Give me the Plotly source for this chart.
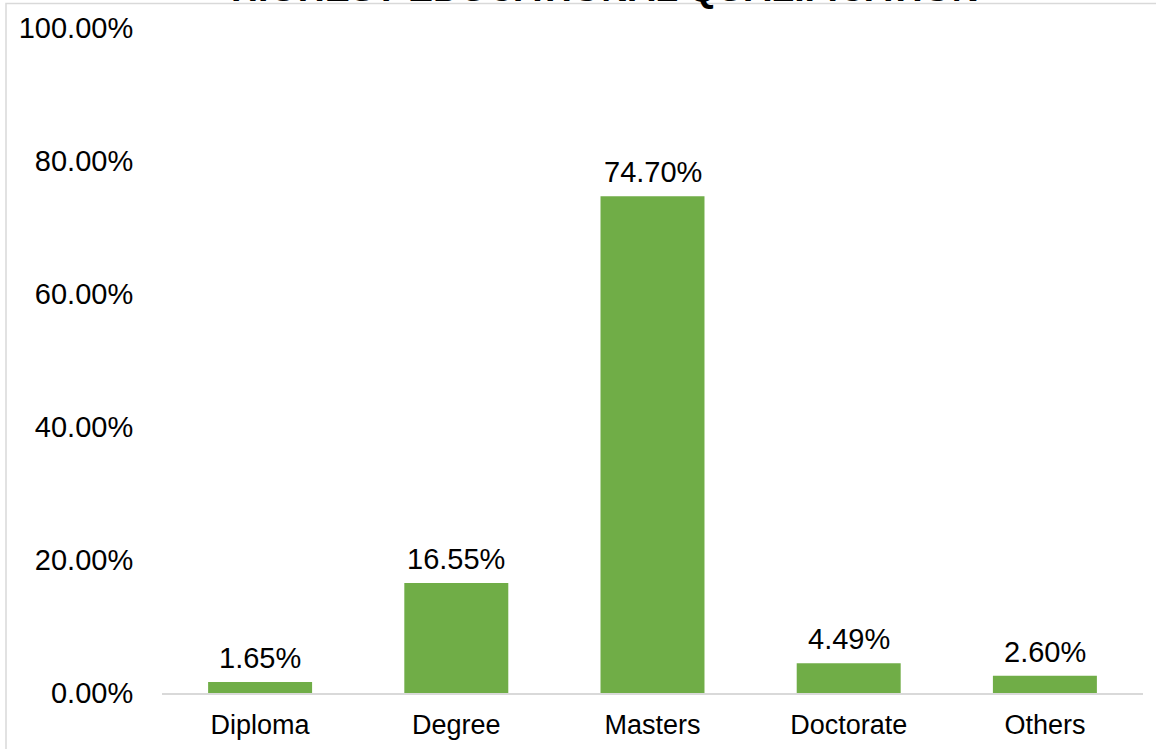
import plotly.graph_objects as go

categories = ["Diploma", "Degree", "Masters", "Doctorate", "Others"]
values = [0.0165, 0.1655, 0.7470, 0.0449, 0.0260]
value_labels = ["1.65%", "16.55%", "74.70%", "4.49%", "2.60%"]
title_text = "HIGHEST EDUCATIONAL QUALIFICATION"

FONT = "Liberation Sans, Arial, sans-serif"

fig = go.Figure()
fig.add_trace(go.Bar(
    x=categories, y=values,
    marker=dict(color="#70AD47", line=dict(width=0)),
    width=0.53,
    hoverinfo="x+y",
))

for c, v, t in zip(categories, values, value_labels):
    fig.add_annotation(x=c, y=v, xref="x", yref="y", text=t, showarrow=False,
                       yanchor="bottom", yshift=6,
                       font=dict(family=FONT, size=29, color="#000000"))

L, R, T, B = 162, 13, 28, 56
W, H = 1156, 749
pw, ph = W - L - R, H - T - B

# chart-area border (light gray), partly outside the viewport
fig.add_shape(type="rect", xref="paper", yref="paper",
              x0=(6 - L) / pw, x1=(W + 20 - L) / pw,
              y0=-(H + 20 - T - ph) / ph, y1=1 + (T - 3.5) / ph,
              line=dict(color="#D9D9D9", width=1.5), fillcolor="rgba(0,0,0,0)", layer="below")

# title, mostly cut off above the viewport
fig.add_annotation(x=(605 - L) / pw, y=1 + (T - 11.5) / ph, xref="paper", yref="paper",
                   text="<b>" + title_text + "</b>", showarrow=False,
                   xanchor="center", yanchor="bottom",
                   font=dict(family=FONT, size=37.5, color="#000000"))

fig.update_layout(
    width=W, height=H,
    margin=dict(l=L, r=R, t=T, b=B, autoexpand=False),
    paper_bgcolor="#FFFFFF", plot_bgcolor="#FFFFFF",
    showlegend=False,
    font=dict(family=FONT, color="#000000"),
)
fig.update_xaxes(
    showgrid=False, showline=True, linecolor="#D9D9D9", linewidth=1.5,
    ticks="outside", ticklen=7, tickcolor="rgba(0,0,0,0)",
    tickfont=dict(family=FONT, size=27, color="#000000"),
    range=[-0.5, 4.5],
)
fig.update_yaxes(
    range=[0, 1.0], tickvals=[0, 0.2, 0.4, 0.6, 0.8, 1.0], tickformat=".2%",
    showgrid=False, zeroline=False, showline=False,
    ticks="outside", ticklen=22, tickcolor="rgba(0,0,0,0)",
    tickfont=dict(family=FONT, size=29, color="#000000"),
)

fig.write_html("out.html")
